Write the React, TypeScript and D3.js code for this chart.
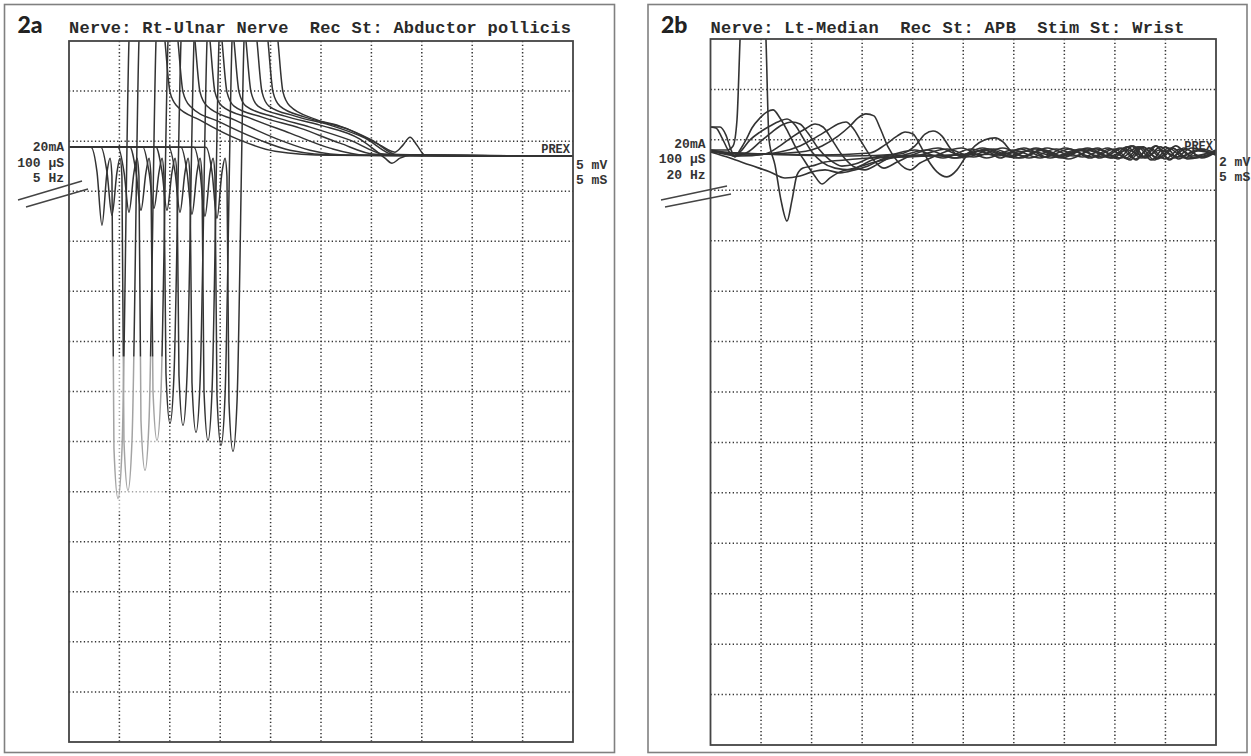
import React from "react";
import * as d3 from "d3";

type P = [number, number];

// ---------- Panel 2a : time (ms) vs amplitude (mV), 5 ms/div, 5 mV/div ----------
const aTitle = "Nerve: Rt-Ulnar Nerve  Rec St: Abductor pollicis";
const aLeftLabels = ["20mA", "100 µS", "5 Hz"];
const aRightLabels = ["5 mV", "5 mS"];
const aMsPerDiv = 5;
const aMvPerDiv = 5;
const aTopMv = 11.5;

const aTraces: P[][] = [
  [[0, 0.9], [2.18, 0.9], [2.78, -1.6], [3.27, -6.9], [3.77, -1.6], [4.07, -0.2], [4.26, -2.0], [4.46, -29.2], [4.86, -34.2], [5.26, -29.2], [5.95, 11.5], [6.45, 19.6], [8.93, 17.6], [9.52, 11.5], [10.02, 6.4], [10.71, 5.0], [13.0, 3.6], [16.96, 1.6], [20.44, 0.5], [25.89, 0.1], [50, 0]],
  [[0, 0.9], [3.17, 0.9], [3.77, -1.6], [4.26, -5.9], [4.76, -1.6], [5.06, -0.2], [5.25, -2.0], [5.45, -28.4], [5.85, -33.4], [6.25, -28.4], [6.94, 11.5], [7.44, 19.6], [10.22, 17.6], [10.81, 11.5], [11.31, 6.4], [12.0, 5.0], [14.98, 3.4], [18.95, 1.6], [21.92, 0.6], [26.88, 0.1], [50, 0]],
  [[0, 0.9], [4.86, 0.9], [5.46, -1.6], [5.95, -5.6], [6.45, -1.6], [6.75, -0.2], [6.94, -2.0], [7.14, -26.4], [7.54, -31.4], [7.94, -26.4], [8.63, 11.5], [9.13, 19.6], [11.9, 17.6], [12.5, 11.5], [13.0, 6.4], [13.69, 5.0], [16.47, 3.6], [20.44, 1.8], [23.91, 0.6], [27.88, 0.1], [50, 0]],
  [[0, 0.9], [6.05, 0.9], [6.65, -1.6], [7.14, -5.4], [7.64, -1.6], [7.94, -0.2], [8.13, -2.0], [8.33, -23.4], [8.73, -28.4], [9.13, -23.4], [9.82, 11.5], [10.32, 19.6], [13.39, 17.6], [13.99, 11.5], [14.48, 6.4], [15.18, 5.0], [17.96, 3.8], [21.92, 2.3], [25.89, 0.8], [29.37, 0.1], [50, 0]],
  [[0, 0.9], [7.34, 0.9], [7.94, -1.6], [8.43, -5.2], [8.93, -1.6], [9.23, -0.2], [9.42, -2.0], [9.62, -21.7], [10.02, -26.7], [10.42, -21.7], [11.11, 11.5], [11.61, 19.6], [14.58, 17.6], [15.18, 11.5], [15.67, 6.4], [16.37, 5.0], [19.15, 3.9], [22.92, 2.8], [26.88, 1.3], [30.36, 0.2], [50, 0]],
  [[0, 0.9], [8.63, 0.9], [9.23, -1.6], [9.72, -5.4], [10.22, -1.6], [10.52, -0.2], [10.71, -2.0], [10.91, -21.9], [11.31, -26.9], [11.71, -21.9], [12.4, 11.5], [12.9, 19.6], [15.77, 17.6], [16.37, 11.5], [16.87, 6.4], [17.56, 5.0], [20.44, 3.9], [23.91, 2.9], [27.88, 1.6], [31.35, 0.2], [50, 0]],
  [[0, 0.9], [9.92, 0.9], [10.52, -1.6], [11.01, -5.6], [11.51, -1.6], [11.81, -0.2], [12.0, -2.0], [12.2, -22.6], [12.6, -27.6], [13.0, -22.6], [13.69, 11.5], [14.19, 19.6], [16.96, 17.6], [17.56, 11.5], [18.06, 6.4], [18.75, 5.0], [21.43, 4.0], [24.9, 3.1], [28.87, 1.7], [30.36, 0.6], [31.35, -0.2], [32.04, -0.7], [32.84, -0.2], [33.83, 0.1], [50, 0]],
  [[0, 0.9], [11.11, 0.9], [11.71, -1.6], [12.2, -5.8], [12.7, -1.6], [13.0, -0.2], [13.19, -2.0], [13.39, -23.4], [13.79, -28.4], [14.19, -23.4], [14.88, 11.5], [15.38, 19.6], [18.06, 17.6], [18.65, 11.5], [19.15, 6.4], [19.84, 5.0], [22.42, 4.0], [25.89, 3.1], [29.37, 1.8], [32.34, 0.1], [50, 0]],
  [[0, 0.9], [12.4, 0.9], [13.0, -1.6], [13.49, -6.0], [13.99, -1.6], [14.29, -0.2], [14.48, -2.0], [14.68, -23.9], [15.08, -28.9], [15.48, -23.9], [16.17, 11.5], [16.67, 19.6], [19.15, 17.6], [19.74, 11.5], [20.24, 6.4], [20.93, 5.0], [23.41, 3.9], [26.88, 3.0], [30.06, 1.6], [32.64, 0.1], [50, 0]],
  [[0, 0.9], [13.59, 0.9], [14.19, -1.6], [14.68, -6.2], [15.18, -1.6], [15.48, -0.2], [15.67, -2.0], [15.87, -24.5], [16.27, -29.5], [16.67, -24.5], [17.36, 11.5], [17.86, 19.6], [20.14, 17.6], [20.73, 11.5], [21.23, 6.4], [21.92, 5.0], [24.4, 3.7], [27.88, 2.6], [30.85, 1.1], [32.34, 0.4], [33.13, 1.1], [33.83, 1.9], [34.52, 1.1], [35.32, 0.1], [50, 0]],
];

// faded (light) zone of the original print, in data units
const aFade = { t0: 4.1, t1: 9.4, v0: -35.5, v1: -20.0 };

// ---------- Panel 2b : time (ms) vs amplitude (mV), 5 ms/div, 2 mV/div ----------
const bTitle = "Nerve: Lt-Median  Rec St: APB  Stim St: Wrist";
const bLeftLabels = ["20mA", "100 µS", "20 Hz"];
const bRightLabels = ["2 mV", "5 mS"];
const bMsPerDiv = 5;
const bMvPerDiv = 2;
const bTopMv = 4.52;

const bTraces: P[][] = [
  [[0, 0.12], [1.63, 0.12], [2.23, 0.28], [2.62, 1.31], [2.92, 4.48], [3.31, 8.45], [5.09, 8.45], [5.49, 4.48], [5.79, 0.52], [6.38, -0.48], [6.97, -1.87], [7.57, -2.7], [8.06, -1.87], [8.56, -0.87], [9.15, -0.6], [10.04, -0.52], [11.33, -0.36], [13.3, -0.28], [15.78, -0.2], [18.74, -0.16], [23.7, -0.08], [28.63, -0.04], [31.6, 0.08], [34.08, -0.12], [37.05, 0.12], [39.51, -0.12], [41.29, 0.12], [42.98, -0.16], [44.46, 0.12], [46.24, -0.16], [48.22, 0.08], [50, -0.08]],
  [[0, 1.03], [0.94, 1.03], [1.53, 0.71], [2.03, 0.12], [2.42, -0.16], [2.92, 0.12], [3.51, 0.52], [4.1, 0.99], [4.9, 1.39], [5.59, 1.63], [6.18, 1.71], [6.87, 1.39], [7.67, 0.83], [8.46, 0.2], [9.25, -0.28], [10.24, -0.87], [11.03, -1.23], [11.82, -0.99], [12.81, -0.75], [14.29, -0.6], [16.27, -0.36], [18.74, -0.16], [24.68, -0.08], [27.5, 0.16], [30.2, -0.2], [33, 0.12], [35.4, -0.24], [38.1, 0.16], [40.6, -0.2], [42.3, 0.24], [43.6, -0.28], [45, 0.24], [46.3, -0.24], [48, 0.12], [50, -0.04]],
  [[0, 1.03], [0.54, 0.99], [1.14, 0.6], [1.73, 0.12], [2.23, -0.12], [2.92, 0.04], [3.91, 0.52], [4.9, 0.83], [5.89, 1.07], [6.87, 1.27], [7.57, 1.35], [8.36, 1.11], [9.15, 0.6], [10.04, 0.04], [11.03, -0.36], [12.32, -0.6], [13.8, -0.67], [14.79, -0.52], [15.97, -0.28], [17.75, -0.12], [21.71, -0.08], [24.5, -0.2], [27, 0.12], [29.6, -0.16], [32.2, 0.2], [34.8, -0.12], [37.3, 0.2], [39.8, -0.2], [41.6, 0.28], [42.9, -0.2], [44.1, 0.28], [45.4, -0.28], [46.8, 0.2], [48.6, -0.16], [50, 0.08]],
  [[0, 0.12], [1.14, 0.04], [2.42, -0.12], [3.71, 0.04], [4.9, 0.44], [6.08, 0.83], [7.07, 1.11], [8.06, 1.23], [8.85, 1.15], [9.64, 0.79], [10.63, 0.2], [11.82, -0.28], [13.0, -0.52], [14.29, -0.44], [15.78, -0.2], [17.75, -0.08], [20.2, 0.12], [23, -0.2], [25.8, 0.16], [28.4, -0.12], [31, 0.2], [33.6, -0.2], [36.2, 0.12], [38.8, -0.16], [40.9, 0.2], [42.1, -0.28], [43.3, 0.2], [44.6, -0.2], [46, 0.28], [47.5, -0.12], [50, 0.08]],
  [[0, 0.08], [2.92, -0.12], [5.39, -0.04], [6.87, 0.28], [8.06, 0.63], [9.35, 0.95], [10.34, 1.15], [11.13, 1.03], [12.02, 0.52], [13.0, -0.08], [14.09, -0.52], [15.28, -0.67], [16.57, -0.44], [17.95, -0.16], [20.72, -0.08], [23.4, 0.16], [26, -0.16], [28.9, 0.2], [31.5, -0.2], [34.2, 0.16], [36.8, -0.16], [39.3, 0.2], [41.1, -0.2], [42.5, 0.24], [43.9, -0.28], [45.3, 0.2], [46.9, -0.2], [48.5, 0.16], [50, 0]],
  [[0, 0.08], [3.91, -0.08], [6.87, 0.04], [8.85, 0.28], [10.34, 0.6], [11.62, 0.91], [12.61, 1.15], [13.4, 1.23], [14.09, 0.99], [14.99, 0.4], [15.97, -0.2], [17.16, -0.6], [18.45, -0.36], [19.73, -0.12], [22.5, 0.2], [25.3, -0.16], [28, 0.16], [30.7, -0.2], [33.3, 0.2], [35.9, -0.12], [38.3, 0.2], [40.3, -0.24], [41.8, 0.28], [43.1, -0.2], [44.5, 0.24], [45.9, -0.2], [47.6, 0.2], [50, -0.08]],
  [[0, 0.08], [4.9, -0.04], [8.85, 0.04], [11.03, 0.28], [12.61, 0.67], [13.8, 1.07], [14.59, 1.39], [15.38, 1.55], [16.17, 1.47], [16.77, 0.99], [17.56, 0.24], [18.55, -0.36], [19.73, -0.67], [20.72, -0.4], [22.2, -0.12], [24.8, 0.2], [27.3, -0.2], [29.9, 0.12], [32.6, -0.2], [35.1, 0.2], [37.8, -0.16], [40, 0.16], [41.5, -0.28], [42.8, 0.24], [44.2, -0.24], [45.7, 0.2], [47.2, -0.24], [50, 0.04]],
  [[0, 0.04], [1.93, -0.2], [3.91, -0.48], [5.89, -0.75], [7.37, -0.99], [8.85, -0.91], [10.04, -0.75], [11.33, -0.67], [12.81, -0.79], [14.29, -0.67], [15.58, -0.52], [16.77, -0.28], [18.74, -0.12], [21.4, 0.12], [24.1, -0.2], [26.9, 0.2], [29.5, -0.12], [32.1, 0.16], [34.7, -0.2], [37.2, 0.16], [39.6, -0.2], [41.2, 0.24], [42.6, -0.2], [44, 0.28], [45.4, -0.24], [47, 0.16], [48.6, -0.2], [50, 0.04]],
  [[0, 0.04], [10.83, -0.08], [15.78, 0], [17.26, 0.32], [18.45, 0.67], [19.24, 0.83], [20.03, 0.75], [20.72, 0.32], [21.51, -0.28], [22.4, -0.75], [23.39, -0.95], [24.38, -0.67], [25.17, -0.2], [26.16, 0.28], [27.15, 0.52], [28.14, 0.6], [28.93, 0.44], [29.82, 0.04], [31.11, -0.12], [32.59, 0.12], [34.57, -0.16], [36.55, 0.16], [38.53, -0.2], [40.51, 0.2], [41.99, -0.24], [43.47, 0.2], [44.96, -0.24], [46.44, 0.16], [47.92, -0.2], [50, 0.04]],
  [[0, 0.04], [13.8, -0.12], [18.74, -0.04], [20.23, 0.28], [21.22, 0.75], [22.01, 0.87], [22.9, 0.67], [23.69, 0.2], [24.68, -0.12], [27.15, 0.12], [28.63, -0.2], [30.61, 0.16], [33.08, -0.16], [35.56, 0.16], [37.54, -0.2], [39.51, 0.16], [41.29, -0.24], [42.68, 0.24], [44.26, -0.2], [45.65, 0.2], [47.23, -0.2], [50, 0.12]],
];

type PanelProps = {
  ox: number; oy: number; ow: number; oh: number;
  px: number; py: number; pw: number; ph: number;
  tag: string; title: string; titleLen: number; leftLabels: string[]; rightLabels: string[];
  msPerDiv: number; mvPerDiv: number; topMv: number; traces: P[][]; id: string;
  slash: [number, number, number, number][]; strokeW: number;
  fade?: { t0: number; t1: number; v0: number; v1: number };
};

function Panel(p: PanelProps) {
  const cols = 10, rows = 14;
  const x = d3.scaleLinear().domain([0, cols * p.msPerDiv]).range([p.px, p.px + p.pw]);
  const y = d3.scaleLinear().domain([p.topMv - rows * p.mvPerDiv, p.topMv]).range([p.py + p.ph, p.py]);
  const line = d3.line<P>().x(d => x(d[0])).y(d => y(d[1])).curve(d3.curveMonotoneX);
  const vTicks = d3.range(1, cols).map(i => i * p.msPerDiv);
  const hTicks = d3.range(1, rows).map(i => p.topMv - i * p.mvPerDiv);
  const mono = "'Liberation Mono', 'DejaVu Sans Mono', monospace";
  const base = y(0);
  return (
    <g>
      <defs>
        <clipPath id={p.id}>
          <rect x={p.px} y={p.py} width={p.pw} height={p.ph} />
        </clipPath>
      </defs>
      <rect x={p.ox} y={p.oy} width={p.ow} height={p.oh} fill="none" stroke="#808080" strokeWidth={1.6} />
      <text x={p.ox + 13} y={33} fontFamily="Lato, 'Open Sans', sans-serif" fontWeight={900} fontSize={23} fill="#222">{p.tag}</text>
      <text x={p.px} y={33} fontFamily={mono} fontWeight={700} fontSize={17} fill="#2a2a2a" textLength={p.titleLen} lengthAdjust="spacing" style={{ whiteSpace: "pre" }}>{p.title}</text>
      {vTicks.map(t => (
        <line key={"v" + t} x1={x(t)} x2={x(t)} y1={p.py} y2={p.py + p.ph} stroke="#333" strokeWidth={1.5} strokeDasharray="1.3,2.4" />
      ))}
      {hTicks.map(v => (
        <line key={"h" + v} x1={p.px} x2={p.px + p.pw} y1={y(v)} y2={y(v)} stroke="#333" strokeWidth={1.5} strokeDasharray="1.3,2.4" />
      ))}
      <text x={p.px + p.pw - 3} y={base - 3} textAnchor="end" fontFamily={mono} fontWeight={700} fontSize={12} fill="#333">PREX</text>
      <g clipPath={`url(#${p.id})`}>
        {p.traces.map((tr, i) => (
          <path key={i} d={line(tr) || ""} fill="none" stroke="#333" strokeWidth={p.strokeW} strokeLinejoin="round" />
        ))}
      </g>
      {p.fade && (
        <rect x={x(p.fade.t0)} y={y(p.fade.v1)} width={x(p.fade.t1) - x(p.fade.t0)} height={y(p.fade.v0) - y(p.fade.v1)} fill="#fff" opacity={0.55} />
      )}
      <rect x={p.px} y={p.py} width={p.pw} height={p.ph} fill="none" stroke="#444" strokeWidth={1.8} />
      {p.leftLabels.map((s, i) => (
        <text key={s} x={p.px - 5} y={base - 5 + i * 15.5} textAnchor="end" fontFamily={mono} fontWeight={700} fontSize={13} fill="#333" style={{ whiteSpace: "pre" }}>{s}</text>
      ))}
      {p.rightLabels.map((s, i) => (
        <text key={s} x={p.px + p.pw + 3} y={base + 13 + i * 15} fontFamily={mono} fontWeight={700} fontSize={13} fill="#333" style={{ whiteSpace: "pre" }}>{s}</text>
      ))}
      {p.slash.map((s, i) => (
        <line key={"s" + i} x1={s[0]} y1={s[1]} x2={s[2]} y2={s[3]} stroke="#444" strokeWidth={1.5} />
      ))}
    </g>
  );
}

export default function App() {
  return (
    <div style={{ position: "fixed", left: 0, top: 0 }}>
      <svg width={1251} height={756} style={{ display: "block", background: "#fff" }}>
        <rect width={1251} height={756} fill="#fff" />
        <Panel id="clipA" ox={4.5} oy={4.5} ow={610} oh={748} px={69} py={41} pw={504} ph={701}
          tag="2a" title={aTitle} titleLen={502} leftLabels={aLeftLabels} rightLabels={aRightLabels}
          msPerDiv={aMsPerDiv} mvPerDiv={aMvPerDiv} topMv={aTopMv} traces={aTraces} strokeW={1.5} fade={aFade}
          slash={[[18, 200, 82, 181], [26, 207, 88, 189]]} />
        <Panel id="clipB" ox={648} oy={4.5} ow={599} oh={748} px={710.5} py={39} pw={505.5} ph={706}
          tag="2b" title={bTitle} titleLen={474} leftLabels={bLeftLabels} rightLabels={bRightLabels}
          msPerDiv={bMsPerDiv} mvPerDiv={bMvPerDiv} topMv={bTopMv} traces={bTraces} strokeW={1.6}
          slash={[[661, 200, 727, 186], [665, 207, 731, 194]]} />
      </svg>
    </div>
  );
}
